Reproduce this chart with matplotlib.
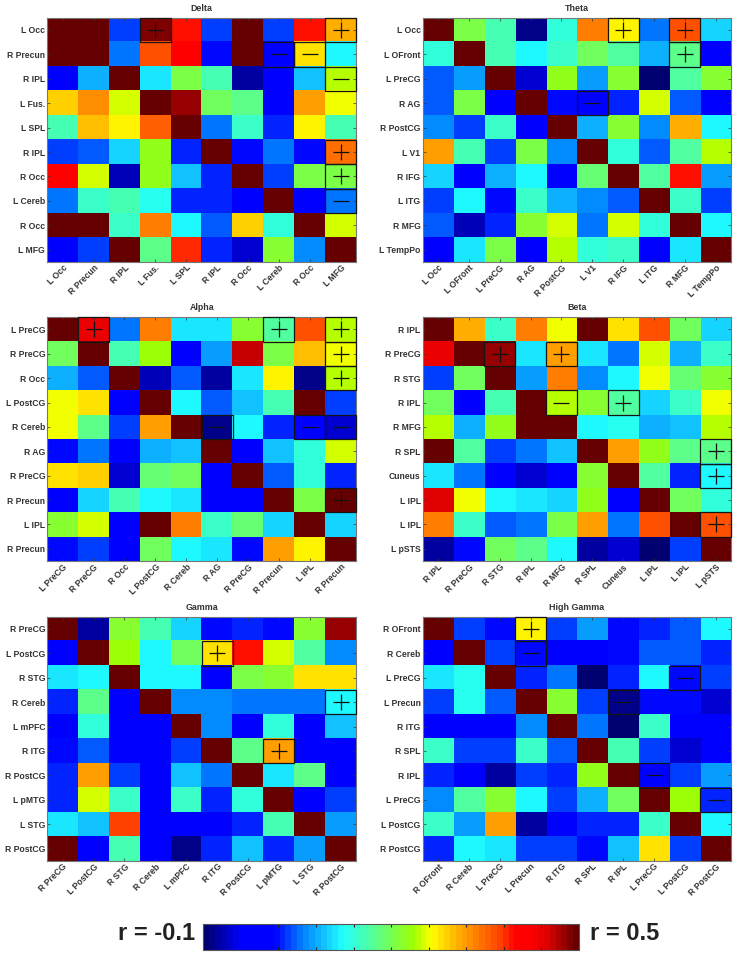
import numpy as np
import matplotlib
matplotlib.use("Agg")
import matplotlib.pyplot as plt
from matplotlib.colors import LinearSegmentedColormap
from matplotlib.patches import Rectangle

plt.rcParams["font.family"] = ["Liberation Sans", "DejaVu Sans"]

# ── regions per band ───────────────────────────────────────────
delta_labels = ["L Occ", "R Precun", "R IPL", "L Fus.", "L SPL", "R IPL", "R Occ", "L Cereb", "R Occ", "L MFG"]
theta_labels = ["L Occ", "L OFront", "L PreCG", "R AG", "R PostCG", "L V1", "R IFG", "L ITG", "R MFG", "L TempPo"]
alpha_labels = ["L PreCG", "R PreCG", "R Occ", "L PostCG", "R Cereb", "R AG", "R PreCG", "R Precun", "L IPL", "R Precun"]
beta_labels = ["R IPL", "R PreCG", "R STG", "R IPL", "R MFG", "R SPL", "Cuneus", "L IPL", "L IPL", "L pSTS"]
gamma_labels = ["R PreCG", "L PostCG", "R STG", "R Cereb", "L mPFC", "R ITG", "R PostCG", "L pMTG", "L STG", "R PostCG"]
hgamma_labels = ["R OFront", "R Cereb", "L PreCG", "L Precun", "R ITG", "R SPL", "R IPL", "L PreCG", "L PostCG", "R PostCG"]

# ── correlation values ─────────────────────────────────────────
delta_vals = [
    [.50, .50, .034, .485, .39, .038, .50, .038, .395, .31],
    [.50, .50, .05, .36, .41, .016, .50, -.02, .275, .122],
    [-.02, .082, .50, .114, .205, .16, -.08, -.02, .094, .24],
    [.29, .33, .255, .50, .48, .194, .172, -.02, .32, .26],
    [.16, .295, .266, .355, .50, .056, .145, .028, .266, .155],
    [.034, .045, .104, .225, .028, .50, .016, .05, .016, .345],
    [.41, .255, -.07, .225, .094, .023, .50, .038, .20, .20],
    [.056, .145, .16, .13, .023, .023, -.02, .50, -.02, .05],
    [.50, .50, .145, .34, .122, .045, .29, .135, .50, .25],
    [-.02, .038, .50, .175, .385, .023, -.055, .21, .068, .50],
]
theta_vals = [
    [.50, .20, .155, -.09, .135, .34, .27, .056, .365, .104],
    [.135, .50, .155, .122, .145, .194, .165, .082, .18, -.02],
    [.045, .078, .50, -.055, .22, .072, .21, -.095, .165, .215],
    [.045, .205, -.02, .50, .016, -.025, .028, .255, .045, -.025],
    [.06, .034, .145, -.02, .50, .087, .215, .06, .31, .122],
    [.32, .155, .038, .205, .068, .50, .14, .045, .165, .24],
    [.104, -.02, .087, .118, -.02, .19, .50, .165, .39, .072],
    [.038, .118, .016, .145, .082, .06, .045, .50, .15, .034],
    [.045, -.07, .028, .21, .255, .056, .25, .135, .50, .118],
    [-.02, .114, .20, -.02, .24, .135, .15, -.02, .107, .50],
]
alpha_vals = [
    [.50, .435, .05, .337, .107, .107, .215, .165, .36, .24],
    [.194, .50, .155, .235, -.02, .072, .46, .205, .30, .26],
    [.082, .045, .50, -.07, .045, -.075, .114, .266, -.09, .24],
    [.26, .28, -.02, .50, .118, .045, .09, .155, .50, .034],
    [.26, .175, .034, .315, .50, -.09, .122, .028, -.02, -.06],
    [.016, .05, -.02, .082, .094, .50, -.025, .094, .135, .25],
    [.275, .29, -.06, .19, .194, -.02, .50, .045, .135, .028],
    [-.02, .104, .155, .118, .107, -.02, -.02, .50, .205, .50],
    [.21, .25, -.02, .50, .337, .145, .19, .104, .50, .098],
    [.016, .034, -.02, .194, .118, .107, .016, .32, .266, .50],
]
beta_vals = [
    [.50, .305, .145, .337, .26, .50, .28, .365, .194, .104],
    [.44, .50, .475, .11, .32, .107, .05, .25, .082, .145],
    [.034, .194, .50, .072, .34, .06, .122, .26, .19, .215],
    [.194, -.02, .155, .50, .245, .215, .165, .104, .15, .26],
    [.24, .082, .22, .50, .50, .122, .125, .082, .094, .24],
    [.50, .165, .038, .05, .09, .50, .315, .22, .175, .175],
    [.114, .05, -.02, -.055, -.02, .215, .50, .165, .028, .122],
    [.45, .26, .122, .114, .104, .22, -.02, .50, .194, .135],
    [.34, .15, .045, .056, .205, .32, .056, .365, .50, .365],
    [-.08, .016, .194, .18, .122, -.08, -.06, -.095, .034, .50],
]
gamma_vals = [
    [.50, -.08, .21, .16, .104, .016, .028, .016, .21, .475],
    [-.02, .50, .235, .122, .194, .275, .39, .255, .165, .06],
    [.11, .118, .50, .122, .122, -.02, .205, .21, .275, .275],
    [.028, .18, -.02, .50, .06, .06, .05, .05, .05, .118],
    [-.02, .14, -.02, -.02, .50, .06, -.02, .135, -.02, .094],
    [.016, .045, -.02, -.02, .038, .50, .172, .32, -.02, -.02],
    [.023, .315, .034, -.02, .094, .05, .50, .107, .172, -.02],
    [.023, .255, .15, -.02, .15, .028, .14, .50, -.02, .034],
    [.107, .094, .377, -.02, -.02, -.02, .023, .16, .50, .072],
    [.50, -.02, .155, -.02, -.09, .028, .094, .023, .078, .50],
]
hgamma_vals = [
    [.50, .034, .016, .266, .038, .072, .016, .028, .045, .118],
    [-.02, .50, .034, .016, -.02, -.02, .016, .045, .045, .028],
    [.114, .125, .50, .023, .056, -.095, .023, .118, .016, .038],
    [.038, .125, .045, .50, .21, .038, -.09, .016, .016, -.055],
    [-.02, -.02, -.02, .06, .50, .05, -.095, .15, -.02, -.02],
    [.15, .034, .034, .15, .045, .50, .16, .038, -.06, -.02],
    [.023, -.02, -.08, .038, .023, .22, .50, -.02, .038, .072],
    [.06, .165, .21, .118, .034, .087, .194, .50, .235, .028],
    [.15, .072, .32, -.08, -.02, .028, .023, .15, .50, .118],
    [.023, .118, .107, .038, .038, .016, .094, .28, .038, .50],
]

# ── significant cells: (row, col, sign) ────────────────────────
delta_sig = [(0, 3, "+"), (0, 9, "+"), (1, 7, "-"), (1, 8, "-"), (2, 9, "-"), (5, 9, "+"), (6, 9, "+"), (7, 9, "-")]
theta_sig = [(0, 6, "+"), (0, 8, "+"), (1, 8, "+"), (3, 5, "-")]
alpha_sig = [(0, 1, "+"), (0, 7, "+"), (0, 9, "+"), (1, 9, "+"), (2, 9, "+"), (4, 5, "-"), (4, 8, "-"), (4, 9, "-"), (7, 9, "+")]
beta_sig = [(1, 2, "+"), (1, 4, "+"), (3, 4, "-"), (3, 6, "+"), (5, 9, "+"), (6, 9, "+"), (8, 9, "+")]
gamma_sig = [(1, 5, "+"), (3, 9, "+"), (5, 7, "+")]
hgamma_sig = [(0, 3, "+"), (1, 3, "-"), (2, 8, "-"), (3, 6, "-"), (6, 7, "-"), (7, 9, "-")]

W, H = 737, 959
VMIN, VMAX = -0.1, 0.5

# jet-like map with the plateaus seen on the reference bar
cmap = LinearSegmentedColormap.from_list("bar", [
    (0.0, "#000070"), (0.093, "#0000ff"), (0.186, "#0000ff"), (0.26, "#0080ff"),
    (0.37, "#20ffff"), (0.444, "#50ffa0"), (0.49, "#70ff60"), (0.56, "#a0ff00"),
    (0.61, "#ffff00"), (0.665, "#ffc000"), (0.728, "#ff8000"), (0.795, "#ff4000"),
    (0.835, "#ff0000"), (0.877, "#ff0000"), (0.92, "#e00000"), (1.0, "#660000"),
], N=64)


def px_axes(fig, x0, y0, x1, y1):
    return fig.add_axes([x0 / W, 1 - y1 / H, (x1 - x0) / W, (y1 - y0) / H])


panels = [
    ("Delta", delta_labels, delta_vals, delta_sig, (47.3, 17.7, 356, 262)),
    ("Theta", theta_labels, theta_vals, theta_sig, (422.7, 17.7, 731, 262)),
    ("Alpha", alpha_labels, alpha_vals, alpha_sig, (47.3, 317.3, 356, 561)),
    ("Beta", beta_labels, beta_vals, beta_sig, (422.7, 317.3, 731, 561)),
    ("Gamma", gamma_labels, gamma_vals, gamma_sig, (47.3, 616.7, 356, 860.7)),
    ("High Gamma", hgamma_labels, hgamma_vals, hgamma_sig, (422.7, 616.7, 731, 860.7)),
]

fig = plt.figure(figsize=(W / 100, H / 100), dpi=100)

for title, labels, vals, sig, box in panels:
    ax = px_axes(fig, *box)
    im = ax.imshow(np.array(vals), cmap=cmap, vmin=VMIN, vmax=VMAX, aspect="auto", interpolation="nearest")
    ax.set_xticks(range(10))
    ax.set_yticks(range(10))
    ax.set_xticklabels(labels, rotation=45, ha="right", rotation_mode="anchor", fontsize=6.2, fontweight="bold", color="#333333")
    ax.set_yticklabels(labels, fontsize=6.2, fontweight="bold", color="#333333")
    ax.tick_params(direction="in", length=2.2, width=0.5, top=True, right=True, color="#333333")
    ax.tick_params(axis="x", pad=1)
    ax.tick_params(axis="y", pad=1.5)
    for s in ax.spines.values():
        s.set_linewidth(0.8)
        s.set_color("#777777")
    ax.set_title(title, fontsize=6.4, fontweight="bold", color="#333333", pad=5)
    # black box and sign on the significant cells
    for r, c, sign in sig:
        ax.add_patch(Rectangle((c - 0.5, r - 0.5), 1, 1, fill=False, ec="#151515", lw=0.9, zorder=3, clip_on=False))
        ax.plot(c, r, marker="+" if sign == "+" else "_", ms=11, mew=0.9, color="#111111", zorder=4)

# colour bar along the bottom
cax = px_axes(fig, 203.3, 923.5, 579, 950.3)
cb = fig.colorbar(im, cax=cax, orientation="horizontal")
cb.set_ticks(np.linspace(VMIN, VMAX, 11)[1:-1])
cb.ax.tick_params(direction="in", length=2.2, width=0.8, top=True, labelbottom=False, color="#222222")
cb.outline.set_linewidth(0.8)
cb.outline.set_edgecolor("#555555")

fig.text(195 / W, 1 - 934 / H, "r = -0.1", ha="right", va="center", fontsize=17, fontweight="bold", color="#222222")
fig.text(590 / W, 1 - 934 / H, "r = 0.5", ha="left", va="center", fontsize=17, fontweight="bold", color="#222222")

fig.savefig("out.png", dpi=100)
